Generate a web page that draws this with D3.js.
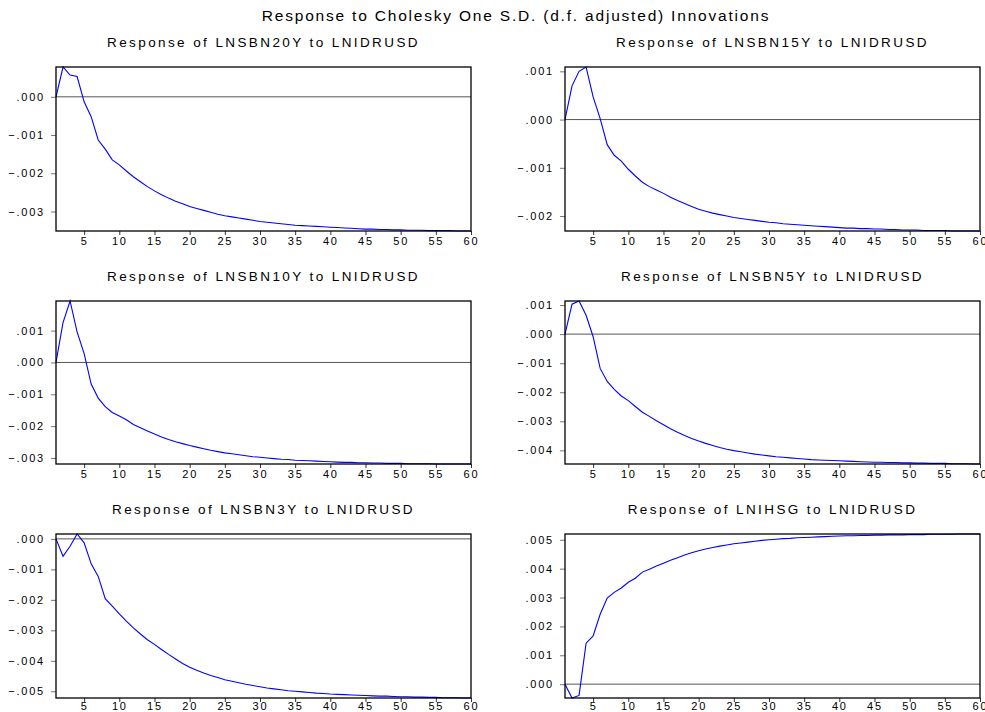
<!DOCTYPE html>
<html>
<head>
<meta charset="utf-8">
<script src="https://cdn.jsdelivr.net/npm/d3@7"></script>
<style>
  body { margin: 0; background: #fff; }
  text { font-family: "Liberation Sans", Arial, sans-serif; fill: #000; }
</style>
</head>
<body>
<div id="chart"></div>
<script>
const periods = d3.range(1, 61);

const lnsbn20y = [0, 0.00078, 0.00057, 0.00053, -0.00013, -0.00052, -0.00113, -0.00137, -0.00165, -0.00178,
  -0.00194, -0.00209, -0.00222, -0.00235, -0.00246, -0.00256, -0.00265, -0.00273, -0.00280, -0.00287,
  -0.00292, -0.00297, -0.00302, -0.00307, -0.00311, -0.00314, -0.00317, -0.00320, -0.00323, -0.00326,
  -0.00328, -0.00330, -0.00332, -0.00334, -0.00336, -0.00337, -0.00338, -0.00339, -0.00340, -0.00341,
  -0.00342, -0.00343, -0.00344, -0.00345, -0.00346, -0.00346, -0.00347, -0.00347, -0.00348, -0.00348,
  -0.00349, -0.00349, -0.00349, -0.00350, -0.00350, -0.00350, -0.00350, -0.00351, -0.00351, -0.00351];

const lnsbn15y = [0, 0.00070, 0.00100, 0.00109, 0.00047, 0.00002, -0.00052, -0.00074, -0.00086, -0.00103,
  -0.00117, -0.00130, -0.00139, -0.00146, -0.00153, -0.00161, -0.00168, -0.00174, -0.00180, -0.00186,
  -0.00190, -0.00194, -0.00197, -0.00200, -0.00203, -0.00205, -0.00207, -0.00209, -0.00211, -0.00213,
  -0.00214, -0.00216, -0.00217, -0.00218, -0.00219, -0.00220, -0.00221, -0.00222, -0.00223, -0.00224,
  -0.00225, -0.00225, -0.00226, -0.00226, -0.00227, -0.00227, -0.00228, -0.00228, -0.00229, -0.00229,
  -0.00229, -0.00230, -0.00230, -0.00230, -0.00230, -0.00231, -0.00231, -0.00231, -0.00231, -0.00231];

const lnsbn10y = [0, 0.00125, 0.00193, 0.00096, 0.00028, -0.00068, -0.00112, -0.00139, -0.00157, -0.00168,
  -0.00180, -0.00195, -0.00205, -0.00215, -0.00225, -0.00234, -0.00242, -0.00249, -0.00255, -0.00261,
  -0.00266, -0.00271, -0.00276, -0.00280, -0.00284, -0.00287, -0.00290, -0.00293, -0.00296, -0.00298,
  -0.00300, -0.00302, -0.00304, -0.00305, -0.00307, -0.00308, -0.00309, -0.00310, -0.00311, -0.00312,
  -0.00313, -0.00314, -0.00314, -0.00315, -0.00315, -0.00316, -0.00316, -0.00317, -0.00317, -0.00317,
  -0.00318, -0.00318, -0.00318, -0.00318, -0.00319, -0.00319, -0.00319, -0.00319, -0.00319, -0.00319];

const lnsbn5y = [0, 0.00103, 0.00114, 0.00065, -0.00009, -0.00118, -0.00163, -0.00190, -0.00213, -0.00229,
  -0.00249, -0.00269, -0.00283, -0.00298, -0.00312, -0.00326, -0.00338, -0.00349, -0.00359, -0.00368,
  -0.00376, -0.00383, -0.00390, -0.00396, -0.00401, -0.00405, -0.00409, -0.00413, -0.00416, -0.00419,
  -0.00422, -0.00424, -0.00426, -0.00428, -0.00430, -0.00432, -0.00433, -0.00434, -0.00435, -0.00436,
  -0.00437, -0.00438, -0.00439, -0.00440, -0.00441, -0.00441, -0.00442, -0.00442, -0.00443, -0.00443,
  -0.00444, -0.00444, -0.00445, -0.00445, -0.00445, -0.00446, -0.00446, -0.00446, -0.00447, -0.00447];

const lnsbn3y = [0, -0.00057, -0.00024, 0.00016, -0.00013, -0.00082, -0.00123, -0.00196, -0.00221, -0.00246,
  -0.00270, -0.00292, -0.00312, -0.00331, -0.00346, -0.00363, -0.00379, -0.00394, -0.00409, -0.00421,
  -0.00431, -0.00440, -0.00448, -0.00455, -0.00462, -0.00467, -0.00472, -0.00477, -0.00481, -0.00485,
  -0.00489, -0.00492, -0.00495, -0.00498, -0.00500, -0.00502, -0.00504, -0.00506, -0.00507, -0.00509,
  -0.00510, -0.00511, -0.00512, -0.00513, -0.00514, -0.00515, -0.00516, -0.00516, -0.00517, -0.00518,
  -0.00518, -0.00519, -0.00519, -0.00520, -0.00520, -0.00521, -0.00521, -0.00521, -0.00522, -0.00522];

const lnihsg = [0, -0.00048, -0.00039, 0.00142, 0.00167, 0.00242, 0.00298, 0.00318, 0.00333, 0.00353,
  0.00367, 0.00388, 0.00398, 0.00409, 0.00419, 0.00429, 0.00438, 0.00447, 0.00455, 0.00462,
  0.00468, 0.00473, 0.00478, 0.00482, 0.00486, 0.00489, 0.00492, 0.00495, 0.00498, 0.00500,
  0.00502, 0.00504, 0.00505, 0.00507, 0.00508, 0.00509, 0.00510, 0.00511, 0.00512, 0.00513,
  0.00514, 0.00514, 0.00515, 0.00515, 0.00516, 0.00516, 0.00517, 0.00517, 0.00517, 0.00518,
  0.00518, 0.00518, 0.00519, 0.00519, 0.00519, 0.00519, 0.00520, 0.00520, 0.00520, 0.00520];

const panelTitles = [
  "Response of LNSBN20Y to LNIDRUSD", "Response of LNSBN15Y to LNIDRUSD",
  "Response of LNSBN10Y to LNIDRUSD", "Response of LNSBN5Y to LNIDRUSD",
  "Response of LNSBN3Y to LNIDRUSD", "Response of LNIHSG to LNIDRUSD"
];
const seriesList = [lnsbn20y, lnsbn15y, lnsbn10y, lnsbn5y, lnsbn3y, lnihsg];
const yTickSets = [
  [0, -0.001, -0.002, -0.003],
  [0.001, 0, -0.001, -0.002],
  [0.001, 0, -0.001, -0.002, -0.003],
  [0.001, 0, -0.001, -0.002, -0.003, -0.004],
  [0, -0.001, -0.002, -0.003, -0.004, -0.005],
  [0, 0.001, 0.002, 0.003, 0.004, 0.005]
];
const xTicks = [5, 10, 15, 20, 25, 30, 35, 40, 45, 50, 55, 60];
const mainTitle = "Response to Cholesky One S.D. (d.f. adjusted) Innovations";

const width = 985, height = 712;
const svg = d3.select("#chart").append("svg")
  .attr("width", width).attr("height", height);

svg.append("text")
  .attr("x", 516).attr("y", 21)
  .attr("text-anchor", "middle")
  .style("font-size", "15.5px")
  .style("letter-spacing", "1.8px")
  .text(mainTitle);

// panel frames: columns and rows
const cols = [[56, 471], [565, 980]];
const rows = [[67, 231], [301, 464], [534, 698]];

const fmt = v => d3.format(".3f")(v).replace("0.", ".");

seriesList.forEach((vals, i) => {
  const [x0, x1] = cols[i % 2];
  const row = Math.floor(i / 2);
  const [y0, y1] = rows[row];
  const data = periods.map((p, k) => ({ p, v: vals[k] }));

  const x = d3.scaleLinear().domain([1, 60]).range([x0, x1]);
  const y = d3.scaleLinear().domain(d3.extent(vals)).range([y1, y0]);

  const g = svg.append("g");

  g.append("text")
    .attr("x", (x0 + x1) / 2).attr("y", y0 - 20)
    .attr("text-anchor", "middle")
    .style("font-size", "13.5px")
    .style("letter-spacing", "2.4px")
    .text(panelTitles[i]);

  // zero line
  g.append("line")
    .attr("x1", x0).attr("x2", x1)
    .attr("y1", y(0)).attr("y2", y(0))
    .attr("stroke", "#555").attr("stroke-width", 1);

  const yAxis = g.append("g")
    .attr("transform", `translate(${x0},0)`)
    .call(d3.axisLeft(y).tickValues(yTickSets[i]).tickFormat(fmt).tickSize(5).tickPadding(6));
  yAxis.select(".domain").remove();
  yAxis.selectAll(".tick line").attr("stroke", "#777");
  yAxis.selectAll(".tick text")
    .style("font-size", "11px").style("letter-spacing", "1.8px")
    .attr("font-family", null);

  const xAxis = g.append("g")
    .attr("transform", `translate(0,${y1})`)
    .call(d3.axisBottom(x).tickValues(xTicks).tickSize(4).tickPadding(row === 2 ? 0 : 2));
  xAxis.select(".domain").remove();
  xAxis.selectAll(".tick line").attr("stroke", "#333");
  xAxis.selectAll(".tick text")
    .style("font-size", "11px").style("letter-spacing", "1.8px")
    .attr("font-family", null);

  g.append("path")
    .datum(data)
    .attr("fill", "none")
    .attr("stroke", "#0000ff")
    .attr("stroke-width", 1.1)
    .attr("d", d3.line().x(d => x(d.p)).y(d => y(d.v)));

  g.append("rect")
    .attr("x", x0).attr("y", y0)
    .attr("width", x1 - x0).attr("height", y1 - y0)
    .attr("fill", "none").attr("stroke", "#000").attr("stroke-width", 1.3);
});
</script>
</body>
</html>
